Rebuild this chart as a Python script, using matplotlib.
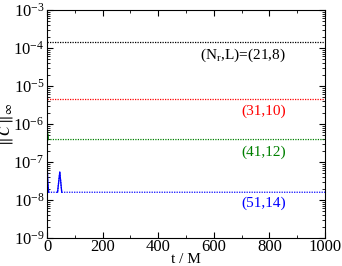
import matplotlib
matplotlib.use("Agg")
import matplotlib.pyplot as plt
from matplotlib.ticker import LogLocator, MultipleLocator, NullFormatter

plt.rcParams['font.family'] = ['Liberation Serif', 'DejaVu Serif']
plt.rcParams['mathtext.fontset'] = 'stix'

# data
t_black = [0, 1000]
v_black = [1.4e-4, 1.4e-4]
t_red = [0, 1000]
v_red = [4.6e-6, 4.6e-6]
t_green = [0, 2, 5, 1000]
v_green = [1.0e-6, 6e-7, 3.9e-7, 3.9e-7]
t_blue = [0, 3, 6, 38, 46, 53, 1000]
v_blue = [1.0e-7, 3e-8, 1.6e-8, 1.6e-8, 5.5e-8, 1.6e-8, 1.6e-8]
labels = ["(N$_\\mathregular{r}$,L)=(21,8)", "(31,10)", "(41,12)", "(51,14)"]
label_y = [6.3e-5, 2.1e-6, 1.8e-7, 8.0e-9]
colors = ['black', 'red', 'green', 'blue']

fig = plt.figure(figsize=(3.42, 2.66), dpi=100)
ax = fig.add_axes([47/342, 28/266, 278/342, 228/266])
series = [(t_black, v_black), (t_red, v_red), (t_green, v_green), (t_blue, v_blue)]
for (t, v), c in zip(series, colors):
    ax.plot(t, v, color=c, lw=0.9, ls=(0, (1, 1)))
ax.plot(t_green[:3], v_green[:3], color='green', lw=0.9)
ax.plot(t_blue[:3], v_blue[:3], color='blue', lw=0.9)
ax.plot(t_blue[3:6], v_blue[3:6], color='blue', lw=0.9)

for lab, y, c in zip(labels, label_y, colors):
    ax.text(858, y, lab, color=c, ha='right', va='center', fontsize=11)

ax.set_yscale('log')
ax.set_xlim(0, 1000)
ax.set_ylim(1e-9, 1e-3)
ax.xaxis.set_major_locator(MultipleLocator(200))
ax.xaxis.set_minor_locator(MultipleLocator(100))
ax.yaxis.set_major_locator(LogLocator(base=10, numticks=10))
ax.yaxis.set_minor_locator(LogLocator(base=10, subs=range(2, 10), numticks=20))
ax.yaxis.set_minor_formatter(NullFormatter())
ax.tick_params(which='both', direction='in', top=True, right=True, labelsize=12)
ax.tick_params(which='major', length=4)
ax.tick_params(which='minor', length=2)
ax.tick_params(axis='x', pad=1)
ax.tick_params(axis='y', pad=2)
ax.set_xlabel('t / M', fontsize=11)
ax.xaxis.set_label_coords(0.5, -0.065)
ax.set_ylabel(r'$\|\,\mathcal{C}\,\|_\infty$', fontsize=12)
ax.yaxis.set_label_coords(-0.115, 0.5)
fig.savefig('out.png', dpi=100)
